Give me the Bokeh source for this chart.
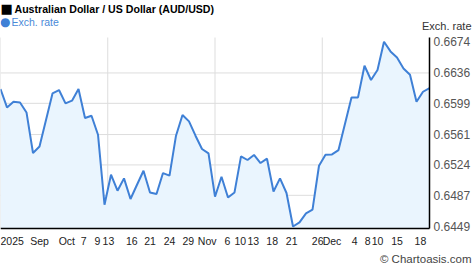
from bokeh.plotting import figure
from bokeh.models import FixedTicker, LinearAxis, Range1d, Label
from bokeh.embed import file_html
from bokeh.resources import INLINE

# AUD/USD daily exchange rate (trading days)
rates = [0.66164, 0.65940, 0.66010, 0.66001, 0.65879, 0.65385, 0.65465, 0.65786,
         0.66111, 0.66152, 0.65989, 0.66022, 0.66164, 0.65811, 0.65839, 0.65608,
         0.64756, 0.65121, 0.64926, 0.65076, 0.64825, 0.64999, 0.65169, 0.64905,
         0.64886, 0.65141, 0.65109, 0.65596, 0.65848, 0.65770, 0.65596, 0.65434,
         0.65380, 0.64853, 0.65096, 0.64844, 0.64905, 0.65344, 0.65300, 0.65361,
         0.65263, 0.65316, 0.64917, 0.65076, 0.64898, 0.64490, 0.64540, 0.64650,
         0.64695, 0.65230, 0.65364, 0.65368, 0.65421, 0.65742, 0.66062, 0.66062,
         0.66448, 0.66274, 0.66395, 0.66740, 0.66622, 0.66549, 0.66415, 0.66338,
         0.66010, 0.66131, 0.66176]
days = list(range(len(rates)))

x_tick_labels = ["2025", "Sep", "Oct", "7", "9", "13", "16", "21", "24", "29", "Nov",
                 "6", "10", "13", "18", "21", "26", "Dec", "4", "8", "10", "15", "18"]
x_tick_days = [1.8, 6.0, 10.2, 12.8, 14.9, 16.6, 20.2, 23.0, 26.0, 28.9, 31.8,
               34.9, 36.9, 38.9, 41.8, 44.8, 48.8, 51.0, 54.5, 56.5, 58.0, 61.0, 64.6]
y_tick_labels = ["0.6449", "0.6487", "0.6524", "0.6561", "0.6599", "0.6636", "0.6674"]
y_ticks = [float(s) for s in y_tick_labels]

title_text = "Australian Dollar / US Dollar (AUD/USD)"
series_name = "Exch. rate"
credit = "\u00a9 Chartoasis.com"

FONT = "Liberation Sans"
BLUE = "#3f80d6"
GRID = "#dddddd"

# layout (pixels): canvas 474x269, plot band 429 wide from y=37 to y=228
W, H, PLOT_W, BAND_TOP, BAND_BOTTOM = 474, 269, 429, 37, 228
last = len(days) - 1
x_end = last * W / PLOT_W
y0 = 0.64466                       # value at bottom of plot band
px_per_val = 30.8 / 0.00375        # vertical scale
band_top_val = y0 + (BAND_BOTTOM - BAND_TOP) / px_per_val
y_start = y0 - (H - BAND_BOTTOM) / px_per_val
y_end = y0 + BAND_BOTTOM / px_per_val

p = figure(width=W, height=H, output_backend="svg", toolbar_location=None,
           x_range=Range1d(0, x_end), y_range=Range1d(y_start, y_end),
           x_axis_location=None, y_axis_location=None,
           min_border_left=0, min_border_right=0, min_border_top=0, min_border_bottom=0)
p.outline_line_color = None
p.background_fill_color = "white"
p.xgrid.visible = False
p.ygrid.visible = False

# grid lines limited to the plot band
vgrid = [last * f for f in (0, 0.25, 0.5, 0.75)]
p.segment(x0=vgrid, y0=[y0] * 4, x1=vgrid, y1=[band_top_val] * 4, line_color=GRID, line_width=1)
inner = y_ticks[1:-1]
p.segment(x0=[0] * len(inner), y0=inner, x1=[last] * len(inner), y1=inner,
          line_color=GRID, line_width=1)

p.varea(x=days, y1=y0, y2=rates, fill_color="#eaf5fe")
p.line(x=days, y=rates, line_color=BLUE, line_width=2)

xax = LinearAxis(ticker=FixedTicker(ticks=x_tick_days), bounds=(0, last), fixed_location=y0,
                 major_label_overrides={t: l for t, l in zip(x_tick_days, x_tick_labels)})
xax.axis_line_color = "black"
xax.axis_line_width = 1.5
xax.major_tick_line_color = None
xax.minor_tick_line_color = None
xax.major_tick_out = 0
xax.major_tick_in = 0
xax.major_label_standoff = 6
xax.major_label_text_font = FONT
xax.major_label_text_font_size = "10.5px"
xax.major_label_text_color = "#222222"
p.add_layout(xax, "below")

yax = LinearAxis(ticker=FixedTicker(ticks=y_ticks), bounds=(y0, band_top_val), fixed_location=last,
                 major_label_overrides={t: l for t, l in zip(y_ticks, y_tick_labels)})
yax.axis_line_color = "black"
yax.axis_line_width = 1.5
yax.major_tick_line_color = None
yax.minor_tick_line_color = None
yax.major_tick_out = 0
yax.major_tick_in = 0
yax.major_label_standoff = 4
yax.major_label_text_font = FONT
yax.major_label_text_font_size = "12px"
yax.major_label_text_color = "#555555"
p.add_layout(yax, "right")

def lab(text, x, y, size, color, align="left", style="normal", font=FONT):
    p.add_layout(Label(x=x, y=y, x_units="canvas", y_units="canvas", text=text,
                       text_font=font, text_font_size=size, text_color=color,
                       text_align=align, text_baseline="middle", text_font_style=style))

lab("\u25a0", 0, 8, "13px", "black", font="DejaVu Sans")
lab(title_text, 14, 8, "10.6px", "black", style="bold")
lab("\u25cf", -0.5, 21, "12px", BLUE, font="DejaVu Sans")
lab(series_name, 11, 21, "10.5px", "#4a8ad8")
lab(series_name, 471, 25, "11px", "#333333", align="right")
lab(credit, 471, 258, "11.5px", "#444444", align="right")

open("out.html", "w").write(file_html(p, INLINE))
